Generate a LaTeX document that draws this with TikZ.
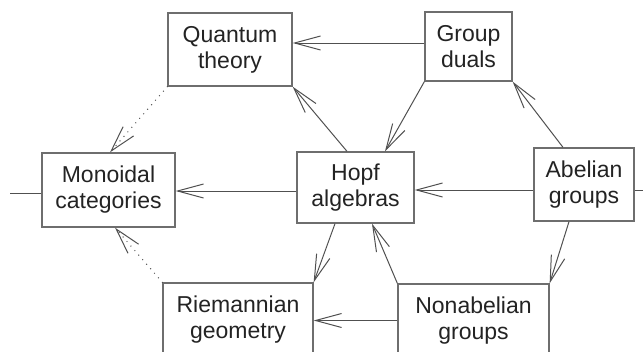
\documentclass[tikz,border=0pt]{standalone}
\usepackage{fontspec}
\setmainfont{Liberation Sans}
\usetikzlibrary{arrows.meta,calc}
\definecolor{boxc}{RGB}{110,110,110}
\definecolor{linec}{RGB}{80,80,80}
\definecolor{txtc}{RGB}{35,35,35}
\tikzset{
  box/.style={draw=boxc, line width=1.3pt, rectangle, align=center, inner sep=0pt,
    text=txtc, font=\fontsize{23}{26}\selectfont},
  arr/.style={draw=linec, line width=1pt, -{Straight Barb[length=26pt,width=14pt,line width=1pt]}},
  darr/.style={draw=linec, line width=1.4pt, line cap=round, dash pattern=on 0pt off 6pt,
    -{Straight Barb[length=26pt,width=14pt,line width=1pt]}},
  stub/.style={draw=linec, line width=1pt}
}
\begin{document}
\begin{tikzpicture}[x=1pt,y=-1pt]
\useasboundingbox (0,0) rectangle (643,351);
\clip (0,0) rectangle (643,351);
\node[box, minimum width=124pt, minimum height=73pt] (qt) at (230,49.5) {Quantum\\theory};
\node[box, minimum width=87pt, minimum height=69pt] (gd) at (468.5,46.5) {Group\\duals};
\node[box, minimum width=133pt, minimum height=74pt] (mon) at (108.5,190) {Monoidal\\categories};
\node[box, minimum width=117pt, minimum height=71pt] (hopf) at (355.5,187.5) {Hopf\\algebras};
\node[box, minimum width=100pt, minimum height=73pt] (ab) at (584,184.5) {Abelian\\groups};
\node[box, minimum width=150pt, minimum height=73pt] (riem) at (238,319.5) {Riemannian\\geometry};
\node[box, minimum width=151pt, minimum height=73pt] (nab) at (473.5,320.5) {Nonabelian\\groups};
\coordinate (lstub) at (10,193);
\coordinate (rstub) at (643,190);

\draw[arr] ([yshift=3.5pt]gd.west) -- ([yshift=3.5pt]gd.west -| qt.east);
\draw[arr] (gd.south west) -- ([xshift=29.5pt]hopf.north);
\draw[arr] ([xshift=-8.5pt]hopf.north) -- (qt.south east);
\draw[arr] ([xshift=-21pt]ab.north) -- (gd.south east);
\draw[arr] ([yshift=-5.5pt]ab.west) -- ([yshift=-5.5pt]ab.west -| hopf.east);
\draw[arr] ([yshift=-3.5pt]hopf.west) -- ([yshift=-3.5pt]hopf.west -| mon.east);
\draw[arr] ([xshift=-15pt]ab.south) -- (nab.north east);
\draw[arr] (nab.north west) -- ([xshift=16.5pt]hopf.south);
\draw[arr] ([xshift=-20.5pt]hopf.south) -- (riem.north east);
\draw[arr] (nab.west) -- (nab.west -| riem.east);
\draw[darr] (qt.south west) -- ([xshift=1.5pt]mon.north);
\draw[darr] (riem.north west) -- ([xshift=6.5pt]mon.south);
\draw[stub] (lstub) -- (lstub -| mon.west);
\draw[stub] (rstub) -- (rstub -| ab.east);
\end{tikzpicture}
\end{document}
